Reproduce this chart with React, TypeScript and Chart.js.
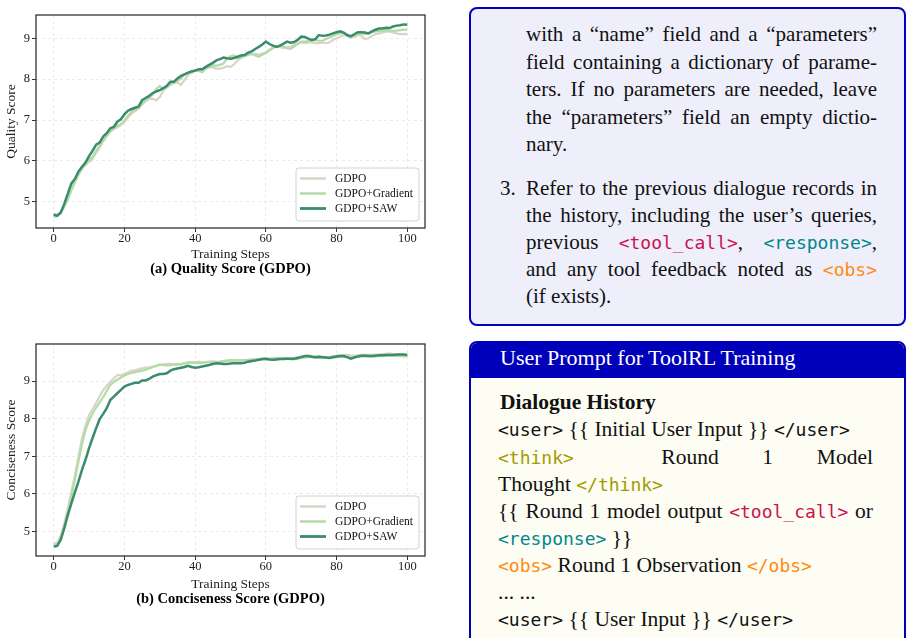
import React, { useEffect, useRef } from "react";
import { Chart, registerables } from "chart.js";
Chart.register(...registerables);

const SERIF = '"Liberation Serif", "Times New Roman", serif';
const MONO = '"DejaVu Sans Mono", monospace';

// ---------- DATA ----------
const steps = Array.from({ length: 101 }, (_, i) => i);
const xTicks = [0, 20, 40, 60, 80, 100];
const yTicks = [5, 6, 7, 8, 9];
const seriesNames = ["GDPO", "GDPO+Gradient", "GDPO+SAW"];

const qualityGDPO = [
  4.66, 4.66, 4.74, 4.92, 5.10, 5.30, 5.50, 5.70, 5.82, 5.90,
  5.98, 6.04, 6.20, 6.32, 6.48, 6.60, 6.72, 6.78, 6.82, 6.88,
  6.96, 7.06, 7.16, 7.22, 7.28, 7.38, 7.46, 7.52, 7.52, 7.48,
  7.56, 7.72, 7.80, 7.86, 7.90, 7.92, 7.86, 7.98, 8.10, 8.16,
  8.20, 8.22, 8.24, 8.28, 8.30, 8.28, 8.26, 8.26, 8.28, 8.32,
  8.30, 8.36, 8.46, 8.52, 8.56, 8.60, 8.62, 8.62, 8.60, 8.62,
  8.66, 8.72, 8.78, 8.80, 8.78, 8.76, 8.78, 8.80, 8.84, 8.88,
  8.90, 8.88, 8.90, 8.90, 8.88, 8.88, 8.90, 8.88, 8.90, 8.96,
  9.00, 9.04, 9.08, 9.06, 9.02, 9.04, 9.08, 9.06, 8.98, 9.00,
  9.06, 9.10, 9.12, 9.14, 9.16, 9.17, 9.14, 9.12, 9.10, 9.11,
  9.10,
];
const qualityGradient = [
  4.62, 4.68, 4.72, 4.88, 5.05, 5.28, 5.48, 5.66, 5.80, 5.92,
  6.02, 6.10, 6.25, 6.38, 6.50, 6.62, 6.72, 6.80, 6.86, 6.90,
  6.98, 7.10, 7.20, 7.26, 7.30, 7.40, 7.50, 7.55, 7.62, 7.76,
  7.83, 7.76, 7.80, 7.88, 7.93, 7.95, 8.02, 8.12, 8.15, 8.20,
  8.22, 8.20, 8.17, 8.26, 8.30, 8.34, 8.33, 8.35, 8.38, 8.50,
  8.56, 8.58, 8.52, 8.55, 8.58, 8.60, 8.62, 8.58, 8.55, 8.60,
  8.64, 8.70, 8.76, 8.80, 8.82, 8.80, 8.76, 8.74, 8.80, 8.86,
  8.92, 8.92, 8.93, 8.94, 8.96, 8.94, 8.94, 8.98, 9.02, 9.06,
  9.10, 9.12, 9.12, 9.08, 9.04, 9.06, 9.10, 9.12, 9.10, 9.12,
  9.15, 9.17, 9.18, 9.18, 9.20, 9.19, 9.18, 9.19, 9.20, 9.21,
  9.21,
];
const qualitySAW = [
  4.69, 4.66, 4.74, 4.95, 5.20, 5.45, 5.56, 5.74, 5.86, 5.96,
  6.12, 6.25, 6.40, 6.45, 6.60, 6.68, 6.80, 6.83, 6.96, 7.02,
  7.14, 7.23, 7.27, 7.30, 7.33, 7.49, 7.54, 7.59, 7.66, 7.70,
  7.73, 7.78, 7.84, 7.94, 7.94, 8.02, 8.08, 8.12, 8.16, 8.19,
  8.21, 8.24, 8.24, 8.30, 8.35, 8.40, 8.46, 8.49, 8.53, 8.51,
  8.50, 8.52, 8.55, 8.58, 8.59, 8.65, 8.68, 8.74, 8.79, 8.85,
  8.92, 8.86, 8.82, 8.79, 8.82, 8.87, 8.92, 8.89, 8.91, 8.96,
  9.04, 9.03, 8.99, 8.96, 8.98, 9.08, 9.06, 9.07, 9.09, 9.12,
  9.15, 9.17, 9.14, 9.08, 9.05, 9.10, 9.15, 9.15, 9.14, 9.12,
  9.17, 9.21, 9.24, 9.24, 9.26, 9.25, 9.29, 9.31, 9.32, 9.34,
  9.33,
];

const concGDPO = [
  4.68, 4.70, 4.88, 5.22, 5.62, 6.05, 6.50, 7.00, 7.48, 7.82,
  8.10, 8.26, 8.42, 8.60, 8.76, 8.88, 8.98, 9.08, 9.16, 9.16,
  9.20, 9.24, 9.28, 9.29, 9.32, 9.34, 9.36, 9.36, 9.38, 9.40,
  9.44, 9.44, 9.46, 9.46, 9.45, 9.46, 9.46, 9.47, 9.48, 9.50,
  9.51, 9.52, 9.50, 9.51, 9.52, 9.53, 9.52, 9.51, 9.52, 9.54,
  9.55, 9.56, 9.56, 9.55, 9.56, 9.57, 9.58, 9.58, 9.59, 9.60,
  9.60, 9.61, 9.61, 9.62, 9.62, 9.61, 9.60, 9.61, 9.62, 9.64,
  9.66, 9.67, 9.68, 9.67, 9.66, 9.66, 9.65, 9.64, 9.65, 9.67,
  9.68, 9.69, 9.70, 9.70, 9.69, 9.68, 9.69, 9.70, 9.71, 9.70,
  9.70, 9.71, 9.71, 9.72, 9.73, 9.74, 9.72, 9.71, 9.70, 9.70,
  9.70,
];
const concGradient = [
  4.62, 4.66, 4.82, 5.12, 5.50, 5.92, 6.38, 6.86, 7.32, 7.70,
  7.95, 8.14, 8.30, 8.44, 8.58, 8.74, 8.90, 8.98, 9.04, 9.10,
  9.15, 9.19, 9.22, 9.24, 9.26, 9.28, 9.30, 9.34, 9.38, 9.41,
  9.44, 9.43, 9.42, 9.43, 9.44, 9.44, 9.45, 9.47, 9.50, 9.50,
  9.49, 9.48, 9.49, 9.50, 9.50, 9.49, 9.50, 9.52, 9.54, 9.55,
  9.56, 9.55, 9.55, 9.56, 9.56, 9.57, 9.57, 9.57, 9.58, 9.58,
  9.58, 9.59, 9.60, 9.60, 9.61, 9.62, 9.61, 9.58, 9.58, 9.60,
  9.62, 9.63, 9.64, 9.64, 9.63, 9.62, 9.63, 9.64, 9.64, 9.64,
  9.64, 9.65, 9.64, 9.64, 9.63, 9.64, 9.65, 9.66, 9.66, 9.66,
  9.66, 9.66, 9.67, 9.67, 9.68, 9.68, 9.68, 9.67, 9.67, 9.66,
  9.66,
];
const concSAW = [
  4.60, 4.62, 4.78, 5.09, 5.44, 5.75, 6.04, 6.33, 6.64, 6.91,
  7.22, 7.49, 7.75, 7.99, 8.13, 8.28, 8.50, 8.59, 8.68, 8.77,
  8.86, 8.90, 8.93, 8.96, 8.96, 9.02, 9.02, 9.06, 9.12, 9.16,
  9.19, 9.19, 9.21, 9.28, 9.32, 9.34, 9.36, 9.38, 9.41, 9.38,
  9.36, 9.37, 9.39, 9.41, 9.43, 9.46, 9.48, 9.47, 9.46, 9.46,
  9.47, 9.48, 9.48, 9.48, 9.49, 9.52, 9.54, 9.55, 9.57, 9.59,
  9.60, 9.58, 9.57, 9.58, 9.59, 9.59, 9.60, 9.60, 9.60, 9.62,
  9.64, 9.67, 9.67, 9.65, 9.64, 9.65, 9.64, 9.63, 9.62, 9.64,
  9.66, 9.67, 9.67, 9.64, 9.60, 9.63, 9.66, 9.68, 9.68, 9.67,
  9.67, 9.68, 9.69, 9.69, 9.70, 9.70, 9.70, 9.71, 9.71, 9.71,
  9.70,
];

const seriesColors = ["#d9d4c6", "#b2dba6", "#3b8b6d"];
const seriesWidths = [2.2, 2.2, 2.5];

// ---------- plugin: frame + legend ----------
const frameLegendPlugin = {
  id: "frameLegend",
  afterDatasetsDraw(chart: any) {
    const { ctx, chartArea: a } = chart;
    ctx.save();
    const bw = 123, bh = 53;
    const bx = a.right - 6 - bw, by = a.bottom - 7 - bh;
    ctx.beginPath();
    ctx.roundRect(bx, by, bw, bh, 3);
    ctx.fillStyle = "rgba(255,255,255,0.85)";
    ctx.fill();
    ctx.strokeStyle = "#d2d2d2";
    ctx.lineWidth = 1;
    ctx.stroke();
    chart.data.datasets.forEach((ds: any, i: number) => {
      const y = by + 10.5 + i * 15;
      ctx.strokeStyle = ds.borderColor;
      ctx.lineWidth = ds.borderWidth + 0.3;
      ctx.beginPath();
      ctx.moveTo(bx + 4, y);
      ctx.lineTo(bx + 30, y);
      ctx.stroke();
      ctx.fillStyle = "#111";
      ctx.font = `11.5px ${SERIF}`;
      ctx.textBaseline = "middle";
      ctx.textAlign = "left";
      ctx.fillText(ds.label, bx + 39, y + 0.5);
    });
    ctx.strokeStyle = "#333";
    ctx.lineWidth = 1.3;
    ctx.strokeRect(a.left, a.top, a.right - a.left, a.bottom - a.top);
    ctx.restore();
  },
};

type ChartProps = {
  top: number;
  padTop: number;
  xAxisH: number;
  values: number[][];
  yMin: number;
  yMax: number;
  yTitle: string;
  caption: string;
};

function LineChart({ top, padTop, xAxisH, values, yMin, yMax, yTitle, caption }: ChartProps) {
  const ref = useRef<HTMLCanvasElement>(null);
  useEffect(() => {
    if (!ref.current) return;
    const tickFont = { family: SERIF, size: 12.5, lineHeight: 1 };
    const chart = new Chart(ref.current, {
      type: "line",
      data: {
        datasets: seriesNames.map((name, si) => ({
          label: name,
          data: steps.map((x, i) => ({ x, y: values[si][i] })),
          borderColor: seriesColors[si],
          backgroundColor: seriesColors[si],
          borderWidth: seriesWidths[si],
          pointRadius: 0,
          tension: 0,
          order: 2 - si,
        })),
      },
      options: {
        animation: false,
        responsive: false,
        events: [],
        layout: { padding: { top: padTop, right: 15, left: 0, bottom: 0 } },
        plugins: {
          legend: { display: false },
          tooltip: { enabled: false },
          title: {
            display: true,
            text: caption,
            position: "bottom",
            fullSize: false,
            color: "#000",
            font: { family: SERIF, size: 14.5, weight: "bold", lineHeight: 1 },
            padding: { top: 0, bottom: 4 },
          },
        },
        scales: {
          x: {
            type: "linear",
            min: -5,
            max: 105,
            afterBuildTicks: (s: any) => {
              s.ticks = xTicks.map((v) => ({ value: v }));
            },
            afterFit: (s: any) => {
              s.height = xAxisH;
            },
            ticks: { font: tickFont, color: "#222", padding: 0, maxRotation: 0, autoSkip: false },
            grid: { color: "rgba(0,0,0,0.10)", lineWidth: 0.8, tickColor: "#333", tickLength: 4, tickWidth: 1 },
            border: { display: false, dash: [3, 3] },
            title: {
              display: true,
              text: "Training Steps",
              color: "#222",
              font: { family: SERIF, size: 13.5, lineHeight: 1 },
              padding: 0,
            },
          },
          y: {
            type: "linear",
            min: yMin,
            max: yMax,
            afterBuildTicks: (s: any) => {
              s.ticks = yTicks.map((v) => ({ value: v }));
            },
            afterFit: (s: any) => {
              s.width = 36;
            },
            ticks: { font: tickFont, color: "#222", padding: 2 },
            grid: { color: "rgba(0,0,0,0.10)", lineWidth: 0.8, tickColor: "#333", tickLength: 4, tickWidth: 1 },
            border: { display: false, dash: [3, 3] },
            title: {
              display: true,
              text: yTitle,
              color: "#222",
              font: { family: SERIF, size: 13.5, lineHeight: 1 },
              padding: { top: 5, bottom: 0 },
            },
          },
        },
      },
      plugins: [frameLegendPlugin],
    } as any);
    return () => chart.destroy();
  }, []);
  return (
    <canvas
      ref={ref}
      width={440}
      height={280}
      style={{ position: "absolute", left: 0, top, width: 440, height: 280 }}
    />
  );
}

// ---------- text helpers ----------
const C_TOOL = "#cc1150";
const C_RESP = "#00878a";
const C_OBS = "#ff8a10";
const C_THINK = "#a39a00";

function M({ c, children }: { c?: string; children: React.ReactNode }) {
  return <span style={{ fontFamily: MONO, fontSize: 18, color: c || "#111" }}>{children}</span>;
}

function Line({ left, cy, width, justify, children, bold, size }: any) {
  return (
    <div
      style={{
        position: "absolute",
        left,
        top: cy - 13.5,
        width,
        height: 27,
        lineHeight: "27px",
        fontFamily: SERIF,
        fontSize: size || 21,
        fontWeight: bold ? "bold" : "normal",
        color: "#111",
        whiteSpace: justify ? "normal" : "nowrap",
        textAlign: justify ? "justify" : "left",
        textAlignLast: justify ? "justify" : "left",
      } as any}
    >
      {children}
    </div>
  );
}

export default function App() {
  const L1 = 526, W1 = 351;
  const L2 = 498, W2 = 375;
  const S2 = 21.5;
  return (
    <div
      style={{
        position: "absolute",
        left: 0,
        top: 0,
        width: 912,
        height: 638,
        overflow: "hidden",
        background: "#fff",
      }}
    >
      <LineChart
        top={0}
        padTop={15}
        xAxisH={33.5}
        values={[qualityGDPO, qualityGradient, qualitySAW]}
        yMin={4.36}
        yMax={9.57}
        yTitle="Quality Score"
        caption="(a) Quality Score (GDPO)"
      />
      <LineChart
        top={330}
        padTop={14}
        xAxisH={35.5}
        values={[concGDPO, concGradient, concSAW]}
        yMin={4.35}
        yMax={9.99}
        yTitle="Conciseness Score"
        caption="(b) Conciseness Score (GDPO)"
      />

      {/* Box 1 */}
      <div
        style={{
          position: "absolute",
          left: 469,
          top: 7,
          width: 437,
          height: 319,
          boxSizing: "border-box",
          border: "2px solid #0000c0",
          borderRadius: 8,
          background: "#efeffb",
        }}
      />
      <Line left={L1} cy={34} width={W1} justify>with a “name” field and a “parameters”</Line>
      <Line left={L1} cy={62} width={W1} justify>field containing a dictionary of parame-</Line>
      <Line left={L1} cy={89.5} width={W1} justify>ters. If no parameters are needed, leave</Line>
      <Line left={L1} cy={117} width={W1} justify>the “parameters” field an empty dictio-</Line>
      <Line left={L1} cy={144.5} width={W1}>nary.</Line>
      <Line left={500} cy={188.5} width={26}>3.</Line>
      <Line left={L1} cy={188.5} width={W1} justify>Refer to the previous dialogue records in</Line>
      <Line left={L1} cy={215.5} width={W1} justify>the history, including the user’s queries,</Line>
      <Line left={L1} cy={242.5} width={W1} justify>
        previous <M c={C_TOOL}>&lt;tool_call&gt;</M>, <M c={C_RESP}>&lt;response&gt;</M>,
      </Line>
      <Line left={L1} cy={269.5} width={W1} justify>
        and any tool feedback noted as <M c={C_OBS}>&lt;obs&gt;</M>
      </Line>
      <Line left={L1} cy={296.5} width={W1}>(if exists).</Line>

      {/* Box 2 */}
      <div
        style={{
          position: "absolute",
          left: 469,
          top: 341,
          width: 437,
          height: 330,
          boxSizing: "border-box",
          border: "2px solid #0000bb",
          borderRadius: 8,
          background: "#fdfdf3",
          overflow: "hidden",
        }}
      >
        <div style={{ height: 35, background: "#0000bb" }} />
      </div>
      <div
        style={{
          position: "absolute",
          left: 500,
          top: 357 - 13.5,
          height: 27,
          lineHeight: "27px",
          fontFamily: SERIF,
          fontSize: 22,
          color: "#fff",
          whiteSpace: "nowrap",
        }}
      >
        User Prompt for ToolRL Training
      </div>
      <Line left={500} cy={402} width={W2} bold size={S2}>Dialogue History</Line>
      <Line left={L2} cy={429} width={W2} size={S2}>
        <M>&lt;user&gt;</M> {"{{"} Initial User Input {"}}"} <M>&lt;/user&gt;</M>
      </Line>
      <div
        style={{
          position: "absolute",
          left: L2,
          top: 457 - 13.5,
          width: W2,
          height: 27,
          lineHeight: "27px",
          fontFamily: SERIF,
          fontSize: S2,
          color: "#111",
          display: "flex",
          justifyContent: "space-between",
          whiteSpace: "nowrap",
        }}
      >
        <M c={C_THINK}>&lt;think&gt;</M>
        <span />
        <span>Round</span>
        <span>1</span>
        <span>Model</span>
      </div>
      <Line left={L2} cy={484} width={W2} size={S2}>
        Thought <M c={C_THINK}>&lt;/think&gt;</M>
      </Line>
      <Line left={L2} cy={511} width={W2} justify size={S2}>
        {"{{"} Round 1 model output <M c={C_TOOL}>&lt;tool_call&gt;</M> or
      </Line>
      <Line left={L2} cy={538.5} width={W2} size={S2}>
        <M c={C_RESP}>&lt;response&gt;</M> {"}}"}
      </Line>
      <Line left={L2} cy={565} width={W2} size={S2}>
        <M c={C_OBS}>&lt;obs&gt;</M> Round 1 Observation <M c={C_OBS}>&lt;/obs&gt;</M>
      </Line>
      <Line left={L2} cy={592} width={W2} size={S2}>... ...</Line>
      <Line left={L2} cy={619} width={W2} size={S2}>
        <M>&lt;user&gt;</M> {"{{"} User Input {"}}"} <M>&lt;/user&gt;</M>
      </Line>
    </div>
  );
}
